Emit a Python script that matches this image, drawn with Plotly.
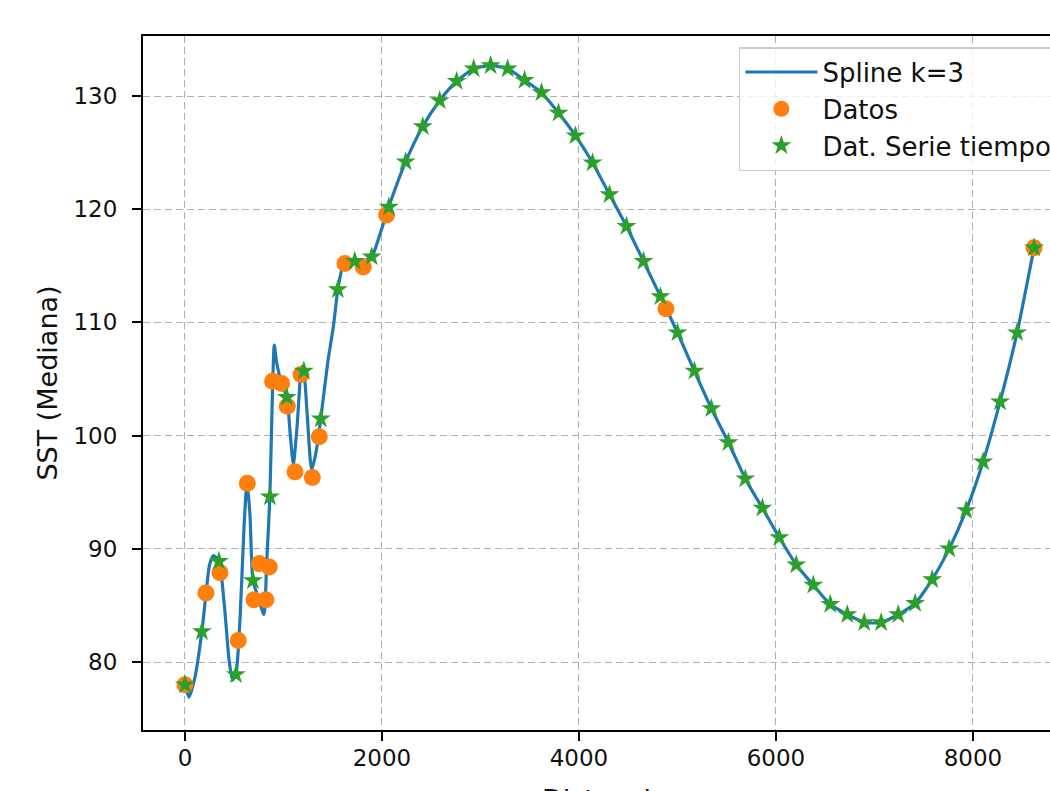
import plotly.graph_objects as go

# Datos (puntos naranja)
datos_x = [0, 213, 355, 541, 633, 700, 755, 822, 856, 890, 981, 1039, 1117, 1178,
           1293, 1364, 1624, 1810, 2047, 4883, 8620]
datos_y = [78.0, 86.1, 87.9, 81.9, 95.8, 85.5, 88.7, 85.5, 88.4, 104.8, 104.6, 102.6,
           96.8, 105.4, 96.3, 99.9, 115.2, 114.9, 119.5, 111.2, 116.6]

# Dat. Serie tiempo (estrellas verdes)
serie_x = [0, 172, 345, 517, 690, 862, 1034, 1207, 1379, 1552, 1724, 1896, 2069, 2241,
           2414, 2586, 2758, 2931, 3103, 3276, 3448, 3620, 3793, 3965, 4138, 4310, 4482,
           4655, 4827, 5000, 5172, 5344, 5517, 5689, 5862, 6034, 6206, 6379, 6551, 6724,
           6896, 7068, 7241, 7413, 7586, 7758, 7930, 8103, 8275, 8448, 8620]
serie_y = [78.0, 82.7, 88.9, 78.9, 87.2, 94.6, 103.4, 105.7, 101.5, 112.9, 115.4, 115.8,
           120.2, 124.2, 127.3, 129.6, 131.3, 132.4, 132.7, 132.4, 131.4, 130.3, 128.5,
           126.5, 124.1, 121.3, 118.5, 115.4, 112.3, 109.1, 105.7, 102.4, 99.4, 96.2,
           93.6, 91.0, 88.6, 86.8, 85.1, 84.2, 83.5, 83.5, 84.2, 85.2, 87.3, 90.0, 93.4,
           97.7, 103.0, 109.1, 116.6]

# Spline k=3 (curva azul)
spline_x = [0, 40, 100, 172, 213, 250, 290, 345, 400, 450, 484, 517, 560, 600, 630, 660,
            690, 740, 802, 829, 862, 890, 907, 930, 981, 1034, 1070, 1100, 1140, 1185,
            1207, 1240, 1286, 1330, 1379, 1450, 1506, 1552, 1601, 1650, 1724, 1810, 1896,
            1980, 2069, 2241, 2414, 2586, 2758, 2931, 3103, 3276, 3448, 3620, 3793, 3965,
            4138, 4310, 4482, 4655, 4827, 5000, 5172, 5344, 5517, 5689, 5862, 6034, 6206,
            6379, 6551, 6724, 6896, 7068, 7241, 7413, 7586, 7758, 7930, 8103, 8275, 8448,
            8620]
spline_y = [78.0, 76.9, 78.6, 82.7, 86.0, 88.6, 89.4, 88.9, 85.0, 80.0, 78.4, 78.9, 84.0,
            92.0, 95.9, 93.0, 87.2, 85.8, 84.2, 88.7, 94.6, 104.5, 108.0, 106.5, 104.6,
            103.4, 100.0, 97.5, 101.0, 106.1, 105.7, 102.0, 97.0, 98.5, 101.5, 106.5,
            109.6, 112.9, 114.9, 115.3, 115.4, 115.4, 115.8, 117.8, 120.2, 124.2, 127.3,
            129.6, 131.3, 132.4, 132.7, 132.4, 131.4, 130.3, 128.5, 126.5, 124.1, 121.3,
            118.5, 115.4, 112.3, 109.1, 105.7, 102.4, 99.4, 96.2, 93.6, 91.0, 88.6, 86.8,
            85.1, 84.2, 83.5, 83.5, 84.2, 85.2, 87.3, 90.0, 93.4, 97.7, 103.0, 109.1, 116.6]

x_ticks = [0, 2000, 4000, 6000, 8000]
y_ticks = [80, 90, 100, 110, 120, 130]

tick_font = dict(family="DejaVu Sans", size=23, color="#111111")
label_font = dict(family="DejaVu Sans", size=27, color="#111111")
legend_font = dict(family="DejaVu Sans", size=26, color="#111111")

fig = go.Figure()
fig.add_trace(go.Scatter(x=spline_x, y=spline_y, mode="lines", name="Spline k=3",
                         line=dict(color="#1f77b4", width=3.2, shape="spline", smoothing=0.6)))
fig.add_trace(go.Scatter(x=datos_x, y=datos_y, mode="markers", name="Datos",
                         marker=dict(color="#ff7f0e", size=17, symbol="circle")))
fig.add_trace(go.Scatter(x=serie_x, y=serie_y, mode="markers", name="Dat. Serie tiempo",
                         marker=dict(color="#2ca02c", size=15, symbol="star")))

axis_common = dict(showgrid=True, gridcolor="#b0b0b0", gridwidth=1.3, griddash="7px,4px",
                   zeroline=False, showline=True, linecolor="black", linewidth=2,
                   ticks="outside", ticklen=9, tickwidth=2, tickcolor="black",
                   tickfont=tick_font, automargin=False)

fig.update_layout(
    width=1050, height=791,
    margin=dict(l=143, r=0, t=36, b=61, autoexpand=False),
    plot_bgcolor="white", paper_bgcolor="white",
    font=tick_font,
    xaxis=dict(axis_common, range=[-426, 8782], tickvals=x_ticks, mirror=True,
               ticklabelstandoff=-3),
    yaxis=dict(axis_common, range=[74.0, 135.3], tickvals=y_ticks, mirror=False,
               ticklabelstandoff=10,
               title=dict(text="SST (Mediana)", font=label_font, standoff=8)),
    legend=dict(x=0.657, y=0.984, xanchor="left", yanchor="top",
                bgcolor="rgba(255,255,255,0.8)", bordercolor="#cccccc", borderwidth=1.5,
                font=legend_font, itemwidth=72, tracegroupgap=0),
    showlegend=True,
)

# el titulo del eje x queda cortado por el borde inferior, como en la imagen
fig.add_annotation(text="Distancia", xref="paper", yref="paper", x=0.509, y=0,
                   xanchor="center", yanchor="top", yshift=-52, showarrow=False,
                   font=label_font)

fig.write_html("out.html", config={"displayModeBar": False},
               post_script="document.body.style.margin='0';")
